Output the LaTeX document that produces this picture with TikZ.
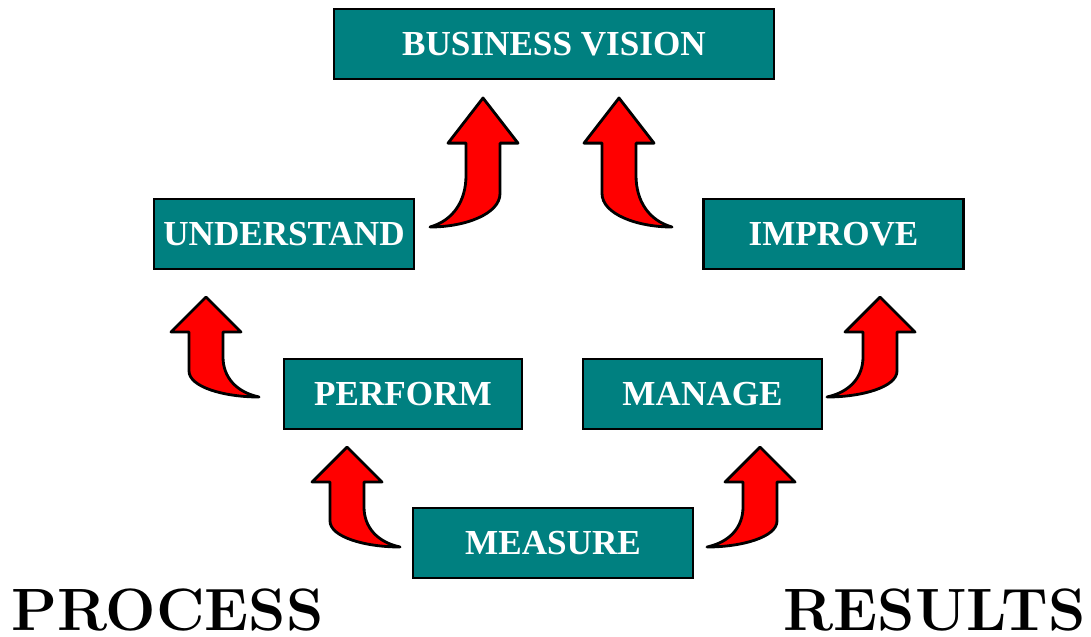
\documentclass[tikz,border=0pt]{standalone}
\usepackage{fontspec}
\newfontfamily\boxfont{Liberation Serif}
\definecolor{boxteal}{RGB}{0,128,128}
\definecolor{arrowred}{RGB}{255,0,0}
\tikzset{
	stagebox/.style={draw=black, line width=1.2pt, fill=boxteal, text=white,
		font=\boxfont\bfseries\fontsize{20}{24}\selectfont,
		minimum height=1.4cm, inner xsep=2pt, inner ysep=0pt},
	arrowline/.style={draw=black, fill=arrowred, line width=1.6pt, line join=round},
	% gebogener Pfeil, Spitze bei (0,0), Schwanz nach rechts unten
	bendarrow/.pic={
		\draw[arrowline] (0,0) -- (35,35) -- (17,35) -- (17,60)
			.. controls (17,80) and (30,95) .. (53,100)
			.. controls (18,100) and (-17,90) .. (-17,74)
			-- (-17,35) -- (-35,35) -- cycle;
	}
}
\begin{document}
\begin{tikzpicture}[x=0.02cm, y=-0.02cm]
		\useasboundingbox (0,0) rectangle (1091,636);
		% Kaesten
		\node [stagebox, minimum width=8.8cm] (vision) at (554,44) {BUSINESS VISION};
		\node [stagebox, minimum width=5.2cm] (understand) at (284,234) {UNDERSTAND};
		\node [stagebox, minimum width=5.2cm] (improve) at (833.5,234) {IMPROVE};
		\node [stagebox, minimum width=4.76cm] (perform) at (403,394) {PERFORM};
		\node [stagebox, minimum width=4.78cm] (manage) at (702.5,394) {MANAGE};
		\node [stagebox, minimum width=5.6cm] (measure) at (553,543) {MEASURE};
		% Pfeile
		\pic [xscale=-1, yscale=1.29] at (483,98) {bendarrow};
		\pic [yscale=1.29] at (619,98) {bendarrow};
		\pic at (206,297) {bendarrow};
		\pic [xscale=-1] at (880,297) {bendarrow};
		\pic at (347,447) {bendarrow};
		\pic [xscale=-1] at (760,447) {bendarrow};
		% Beschriftung unten
		\node [anchor=base west, inner sep=0pt, font=\bfseries\fontsize{34}{36}\selectfont] (process) at (11,630) {PROCESS};
		\node [anchor=base east, inner sep=0pt, font=\bfseries\fontsize{34}{36}\selectfont] (results) at (1086,630) {RESULTS};
\end{tikzpicture}
\end{document}
